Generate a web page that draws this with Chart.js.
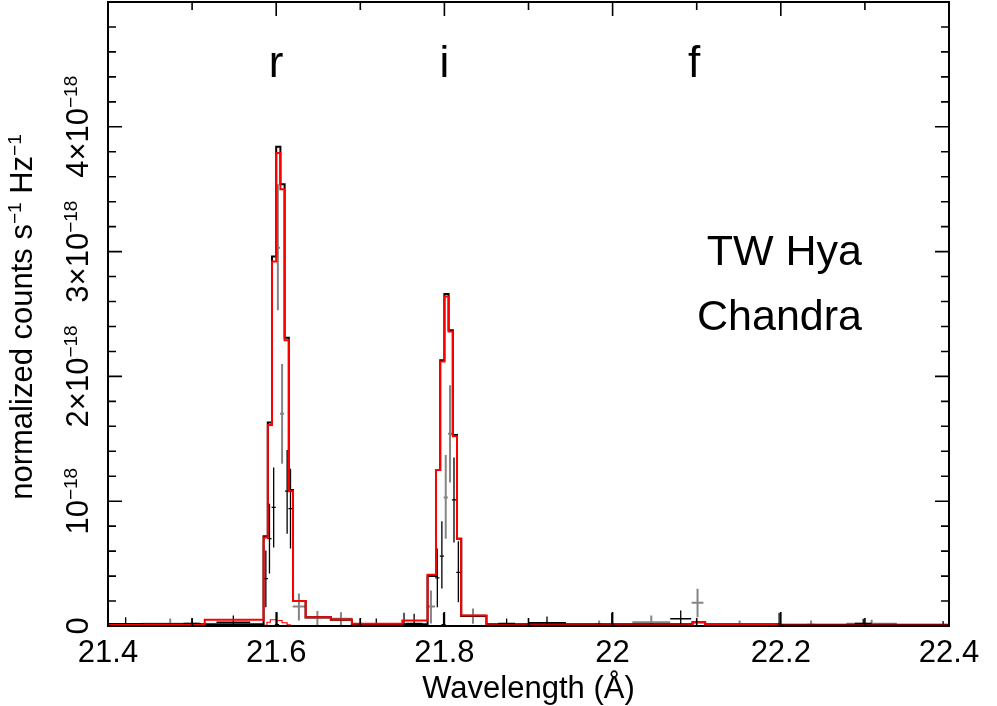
<!DOCTYPE html>
<html>
<head>
<meta charset="utf-8">
<script src="https://cdn.jsdelivr.net/npm/chart.js@4.4.1/dist/chart.umd.min.js"></script>
<style>
  html, body { margin: 0; padding: 0; background: #fff; }
  #mycanvas { display: block; }
</style>
</head>
<body>
<canvas id="mycanvas" width="997" height="706"></canvas>
<script>
// axis ticks
var xTickValues = [21.4, 21.6, 21.8, 22, 22.2, 22.4];
var xTickLabels = ['21.4', '21.6', '21.8', '22', '22.2', '22.4'];
var yTickValues = [0, 1, 2, 3, 4];
var yTickLabels = ['0', '10^\u221218', '2\u00d710^\u221218', '3\u00d710^\u221218', '4\u00d710^\u221218'];

// model histograms (bin edges in Angstrom, values in 1e-18)
var modelEdges = [21.40, 21.515, 21.585, 21.590, 21.595, 21.600, 21.605, 21.610, 21.615, 21.620,
                  21.635, 21.665, 21.690, 21.750, 21.780, 21.790, 21.795, 21.800, 21.805, 21.810,
                  21.815, 21.820, 21.850, 22.095, 22.110, 22.195, 22.40];
var redModel = [0.008, 0.05, 0.71, 1.61, 2.92, 3.79, 3.50, 2.29, 1.08, 0.20,
                0.07, 0.052, 0.018, 0.044, 0.41, 1.25, 2.12, 2.64, 2.36, 1.52,
                0.70, 0.084, 0.006, 0.03, 0.014, 0.005];
var blackModel = [0.015, 0.015, 0.72, 1.63, 2.96, 3.84, 3.54, 2.31, 1.09, 0.20,
                  0.07, 0.05, 0.015, 0.015, 0.40, 1.25, 2.13, 2.66, 2.37, 1.53,
                  0.70, 0.08, 0.015, 0.03, 0.015, 0.01];
var bumpEdges = [21.585, 21.589, 21.593, 21.601, 21.607, 21.613, 21.617, 21.622];
var bumpModel = [0.005, 0.03, 0.05, 0.044, 0.026, 0.01, 0.003];

// black data: centre, value, lower, upper, half bin width
var blackWave = [21.421, 21.500, 21.549, 21.5877, 21.592, 21.597, 21.601, 21.613, 21.617, 21.700,
                 21.719, 21.752, 21.764, 21.7916, 21.797, 21.799, 21.8114, 21.8166, 21.874, 21.922,
                 21.999, 22.081, 22.198, 22.298, 22.393];
var blackRate = [0.018, 0.02, 0.03, 0.38, 0.70, 0.95, 0.01, 1.08, 0.94, 0.015,
                 0.015, 0.01, 0.02, 0.386, 0.56, 0.01, 1.01, 0.43, 0.02, 0.026,
                 0.01, 0.058, 0.015, 0.02, 0.01];
var blackLow = [0, 0, 0, 0.15, 0.42, 0.63, 0, 0.74, 0.62, 0,
                0, 0, 0, 0.15, 0.30, 0, 0.67, 0.19, 0, 0,
                0, 0, 0, 0, 0];
var blackHigh = [0.07, 0.06, 0.084, 0.605, 0.98, 1.27, 0.11, 1.41, 1.26, 0.06,
                 0.06, 0.106, 0.098, 0.62, 0.84, 0.106, 1.35, 0.68, 0.06, 0.076,
                 0.106, 0.124, 0.106, 0.058, 0.04];
var blackHalf = [0.022, 0.01, 0.02, 0.0025, 0.0025, 0.0025, 0.0025, 0.0025, 0.0025, 0.01,
                 0.01, 0.0025, 0.01, 0.0025, 0.0025, 0.0025, 0.0025, 0.0025, 0.01, 0.0225,
                 0.0025, 0.0125, 0.0025, 0.01, 0.005];

// grey data
var greyWave = [21.474, 21.602, 21.607, 21.627, 21.649, 21.677, 21.784, 21.8016, 21.8067, 21.834,
                21.984, 22.046, 22.101, 22.151, 22.236, 22.308];
var greyRate = [0.018, 3.03, 1.70, 0.156, 0.066, 0.058, 0.156, 1.03, 1.54, 0.084,
                0.01, 0.03, 0.186, 0.01, 0.01, 0.018];
var greyLow = [0, 2.53, 1.30, 0.044, 0, 0, 0.02, 0.70, 1.15, 0.018,
               0, 0, 0.071, 0, 0, 0];
var greyHigh = [0.06, 3.54, 2.10, 0.26, 0.12, 0.11, 0.285, 1.37, 1.93, 0.14,
                0.044, 0.084, 0.298, 0.044, 0.044, 0.05];
var greyHalf = [0.034, 0.0025, 0.0025, 0.0075, 0.015, 0.013, 0.005, 0.0025, 0.0025, 0.015,
                0.005, 0.0225, 0.007, 0.005, 0.005, 0.03];

// line labels
var lineNames = ['r', 'i', 'f'];
var lineWave = [21.60, 21.80, 22.097];
var lineLevel = 4.4;

function stepPoints(edges, vals) {
  var pts = [];
  for (var i = 0; i < vals.length; i++) pts.push({x: edges[i], y: vals[i]});
  pts.push({x: edges[edges.length - 1], y: vals[vals.length - 1]});
  return pts;
}
function crossPoints(xs, ys) {
  var pts = [];
  for (var i = 0; i < xs.length; i++) pts.push({x: xs[i], y: ys[i]});
  return pts;
}

var FONT = '"Liberation Sans", Arial, Helvetica, sans-serif';

function drawCrosses(chart, xs, ys, lo, hi, hw, color, width) {
  var ctx = chart.ctx, sx = chart.scales.x, sy = chart.scales.y, a = chart.chartArea;
  ctx.save();
  ctx.beginPath();
  ctx.rect(a.left, a.top, a.right - a.left, a.bottom - a.top);
  ctx.clip();
  ctx.strokeStyle = color;
  ctx.lineWidth = width;
  ctx.beginPath();
  for (var i = 0; i < xs.length; i++) {
    var px = sx.getPixelForValue(xs[i]);
    var py = sy.getPixelForValue(ys[i]);
    ctx.moveTo(px, sy.getPixelForValue(lo[i]));
    ctx.lineTo(px, sy.getPixelForValue(hi[i]));
    ctx.moveTo(sx.getPixelForValue(xs[i] - hw[i]), py);
    ctx.lineTo(sx.getPixelForValue(xs[i] + hw[i]), py);
  }
  ctx.stroke();
  ctx.restore();
}

// draw "base^sup" along the current baseline, starting at x=0
function supText(ctx, str, size, supSize, raise, measureOnly) {
  var parts = str.split('^');
  var w = 0;
  for (var i = 0; i < parts.length; i++) {
    ctx.font = (i % 2 ? supSize : size) + 'px ' + FONT;
    if (!measureOnly) ctx.fillText(parts[i], w, i % 2 ? -raise : 0);
    w += ctx.measureText(parts[i]).width;
  }
  return w;
}

var framePlugin = {
  id: 'framePlugin',
  beforeDatasetsDraw: function(chart) {
    drawCrosses(chart, greyWave, greyRate, greyLow, greyHigh, greyHalf, '#858585', 2);
    drawCrosses(chart, blackWave, blackRate, blackLow, blackHigh, blackHalf, '#000', 1.3);
  },
  afterDraw: function(chart) {
    var ctx = chart.ctx, sx = chart.scales.x, sy = chart.scales.y, a = chart.chartArea;
    ctx.save();
    ctx.strokeStyle = '#000';
    ctx.fillStyle = '#000';
    ctx.lineWidth = 2;
    ctx.strokeRect(a.left, a.top, a.right - a.left, a.bottom - a.top);

    // x ticks, inward on bottom and top
    ctx.lineWidth = 1.6;
    ctx.beginPath();
    for (var i = 0; i < xTickValues.length; i++) {
      var px = sx.getPixelForValue(xTickValues[i]);
      ctx.moveTo(px, a.bottom); ctx.lineTo(px, a.bottom - 14);
      ctx.moveTo(px, a.top); ctx.lineTo(px, a.top + 14);
      if (i < xTickValues.length - 1) {
        var mx = sx.getPixelForValue((xTickValues[i] + xTickValues[i + 1]) / 2);
        ctx.moveTo(mx, a.bottom); ctx.lineTo(mx, a.bottom - 8);
        ctx.moveTo(mx, a.top); ctx.lineTo(mx, a.top + 8);
      }
    }
    // y ticks, inward on left and right
    for (var k = 1; k < 25; k++) {
      var v = k / 5;
      var py = sy.getPixelForValue(v);
      var len = (k % 5 === 0) ? 14 : 8;
      ctx.moveTo(a.left, py); ctx.lineTo(a.left + len, py);
      ctx.moveTo(a.right, py); ctx.lineTo(a.right - len, py);
    }
    ctx.stroke();

    // x tick labels
    ctx.font = '31px ' + FONT;
    ctx.textAlign = 'center';
    ctx.textBaseline = 'alphabetic';
    for (var j = 0; j < xTickValues.length; j++) {
      ctx.fillText(xTickLabels[j], sx.getPixelForValue(xTickValues[j]), 662);
    }
    ctx.fillText('Wavelength (\u00c5)', (a.left + a.right) / 2, 698);

    // y tick labels, rotated
    ctx.textAlign = 'left';
    for (var t = 0; t < yTickValues.length; t++) {
      var ty = sy.getPixelForValue(yTickValues[t]);
      ctx.save();
      ctx.translate(88, ty);
      ctx.rotate(-Math.PI / 2);
      var w = supText(ctx, yTickLabels[t], 31, 19, 11, true);
      ctx.translate(-w / 2, 0);
      supText(ctx, yTickLabels[t], 31, 19, 11, false);
      ctx.restore();
    }
    // y title
    var title = 'normalized counts s^\u22121^ Hz^\u22121';
    ctx.save();
    ctx.translate(32, (a.top + a.bottom) / 2 + 3);
    ctx.rotate(-Math.PI / 2);
    var tw = supText(ctx, title, 31, 19, 11, true);
    ctx.translate(-tw / 2, 0);
    supText(ctx, title, 31, 19, 11, false);
    ctx.restore();

    // line labels
    ctx.font = '44px ' + FONT;
    ctx.textAlign = 'center';
    for (var n = 0; n < lineNames.length; n++) {
      ctx.fillText(lineNames[n], sx.getPixelForValue(lineWave[n]), sy.getPixelForValue(lineLevel));
    }
    ctx.font = '43px ' + FONT;
    ctx.textAlign = 'right';
    ctx.fillText('TW Hya', 862, 265);
    ctx.fillText('Chandra', 862, 330);
    ctx.restore();
  }
};

var ctx = document.getElementById('mycanvas');
var chart = new Chart(ctx, {
  type: 'line',
  data: {
    datasets: [
      {label: 'model', data: stepPoints(modelEdges, redModel), stepped: true,
       borderColor: '#ff0000', borderWidth: 2, pointRadius: 0, fill: false},
      {label: 'model 2', data: stepPoints(modelEdges, blackModel), stepped: true,
       borderColor: '#000000', borderWidth: 2, pointRadius: 0, fill: false},
      {label: 'model 3', data: stepPoints(bumpEdges, bumpModel), stepped: true,
       borderColor: '#ff0000', borderWidth: 1.2, pointRadius: 0, fill: false},
      {label: 'data', type: 'scatter', data: crossPoints(blackWave, blackRate),
       pointRadius: 0, showLine: false},
      {label: 'data 2', type: 'scatter', data: crossPoints(greyWave, greyRate),
       pointRadius: 0, showLine: false}
    ]
  },
  options: {
    responsive: false,
    devicePixelRatio: 1,
    animation: false,
    layout: {padding: {left: 108, right: 48, top: 2, bottom: 80}},
    plugins: {legend: {display: false}, tooltip: {enabled: false}},
    scales: {
      x: {type: 'linear', min: 21.4, max: 22.4, display: false},
      y: {type: 'linear', min: 0, max: 5, display: false}
    }
  },
  plugins: [framePlugin]
});
</script>
</body>
</html>
